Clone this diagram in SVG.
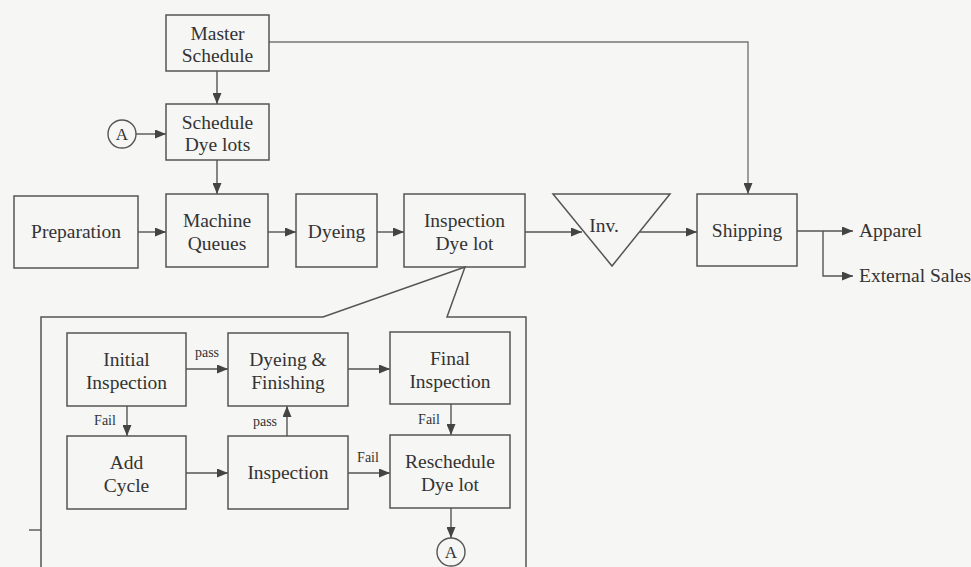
<svg xmlns="http://www.w3.org/2000/svg" width="971" height="567" viewBox="0 0 971 567">
<defs>
<marker id="ah" markerWidth="11" markerHeight="9" refX="11" refY="4.5" orient="auto" markerUnits="userSpaceOnUse"><path d="M0,0 L11,4.5 L0,9 z" fill="#444"/></marker>
<style>
.box{fill:none;stroke:#555;stroke-width:1.5}
.t{font-family:"Liberation Serif","Times New Roman",serif;font-size:19.5px;fill:#333;text-anchor:middle}
.s{font-family:"Liberation Serif","Times New Roman",serif;font-size:14px;fill:#333;text-anchor:middle}
.l{font-family:"Liberation Serif","Times New Roman",serif;font-size:19.5px;fill:#333;text-anchor:start}
.c{fill:none;stroke:#555;stroke-width:1.4}
.a{marker-end:url(#ah)}
</style>
</defs>
<rect width="971" height="567" fill="#f6f6f4"/>

<g id="connectors" class="c">
<path class="a" d="M217,71 V104"/>
<path class="a" d="M136,134 H166"/>
<path class="a" d="M217,160 V194"/>
<path class="a" d="M269,42 H748 V194" stroke="#777"/>
<path class="a" d="M138,232 H166"/>
<path class="a" d="M268,232 H296"/>
<path class="a" d="M377,232 H404"/>
<path class="a" d="M525,232 H582"/>
<path class="a" d="M640,232 H697"/>
<path class="a" d="M797,231 H853"/>
<path class="a" d="M823,231 V276 H853"/>
<path class="a" d="M186,369 H228"/>
<path class="a" d="M348,369 H390"/>
<path class="a" d="M127,406 V436"/>
<path class="a" d="M287,436 V406"/>
<path class="a" d="M186,473 H228"/>
<path class="a" d="M348,473 H390"/>
<path class="a" d="M451,404 V435"/>
<path class="a" d="M451,508 V538"/>
</g>

<g id="labels">
<text class="s" x="207" y="357">pass</text>
<text class="s" x="105" y="425">Fail</text>
<text class="s" x="265" y="426">pass</text>
<text class="s" x="368" y="462">Fail</text>
<text class="s" x="429" y="424">Fail</text>
</g>

<g id="master"><rect class="box" x="166" y="15" width="103" height="56"/><text class="t" x="217.5" y="40">Master</text><text class="t" x="217.5" y="62">Schedule</text></g>
<g id="schedule"><rect class="box" x="166" y="104" width="103" height="56"/><text class="t" x="217.5" y="129">Schedule</text><text class="t" x="217.5" y="151">Dye lots</text></g>
<g id="connA1"><circle cx="122" cy="134" r="14" fill="none" stroke="#555" stroke-width="1.4"/><text class="t" x="122" y="140" style="font-size:17px">A</text></g>
<g id="prep"><rect class="box" x="14" y="196" width="124" height="72"/><text class="t" x="76" y="238">Preparation</text></g>
<g id="machine"><rect class="box" x="166" y="194" width="102" height="73"/><text class="t" x="217" y="227">Machine</text><text class="t" x="217" y="250">Queues</text></g>
<g id="dyeing"><rect class="box" x="296" y="194" width="81" height="73"/><text class="t" x="336.5" y="238">Dyeing</text></g>
<g id="inspdl"><rect class="box" x="404" y="194" width="121" height="73"/><text class="t" x="464.5" y="227">Inspection</text><text class="t" x="464.5" y="250">Dye lot</text></g>
<g id="inv"><polygon class="box" points="553,194 670,194 612,266"/><text class="t" x="604" y="232">Inv.</text></g>
<g id="shipping"><rect class="box" x="697" y="194" width="100" height="72"/><text class="t" x="747" y="237">Shipping</text></g>
<g id="apparel"><text class="l" x="859" y="237">Apparel</text></g>
<g id="external"><text class="l" x="859" y="282">External Sales</text></g>

<g id="callout"><path class="box" d="M41,570 V317 H323 L465,267 L447,317 H526 V570"/><path class="c" d="M29,530 H41"/></g>

<g id="init"><rect class="box" x="67" y="333" width="119" height="73"/><text class="t" x="126.5" y="366">Initial</text><text class="t" x="126.5" y="389">Inspection</text></g>
<g id="dyfin"><rect class="box" x="228" y="333" width="120" height="73"/><text class="t" x="288" y="366">Dyeing &amp;</text><text class="t" x="288" y="389">Finishing</text></g>
<g id="final"><rect class="box" x="390" y="332" width="120" height="72"/><text class="t" x="450" y="365">Final</text><text class="t" x="450" y="388">Inspection</text></g>
<g id="add"><rect class="box" x="67" y="436" width="119" height="73"/><text class="t" x="126.5" y="469">Add</text><text class="t" x="126.5" y="492">Cycle</text></g>
<g id="insp"><rect class="box" x="228" y="436" width="120" height="73"/><text class="t" x="288" y="479">Inspection</text></g>
<g id="resched"><rect class="box" x="390" y="435" width="120" height="73"/><text class="t" x="450" y="468">Reschedule</text><text class="t" x="450" y="491">Dye lot</text></g>
<g id="connA2"><circle cx="451" cy="552" r="14" fill="none" stroke="#555" stroke-width="1.4"/><text class="t" x="451" y="558" style="font-size:17px">A</text></g>
</svg>
